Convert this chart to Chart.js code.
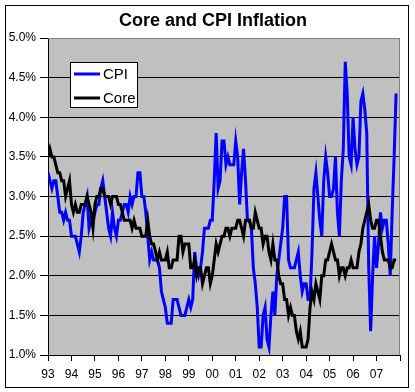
<!DOCTYPE html>
<html>
<head>
<meta charset="utf-8">
<script src="https://cdn.jsdelivr.net/npm/chart.js@4"></script>
<style>
  html, body { margin: 0; padding: 0; background: #fff; }
  #wrap { width: 415px; height: 392px; }
</style>
</head>
<body>
<div id="wrap"><canvas id="chart" width="415" height="392"></canvas></div>
<script>
const chartTitle = 'Core and CPI Inflation';
const yearLabels = ['93', '94', '95', '96', '97', '98', '99', '00', '01', '02', '03', '04', '05', '06', '07'];

// monthly, year over year %, Jan 1993 - Nov 2007
const cpi = [
    3.3, 3.2, 3.1, 3.2, 3.2, 3.0, 2.8, 2.8, 2.7, 2.8, 2.7, 2.7, // 93
    2.5, 2.5, 2.5, 2.4, 2.3, 2.5, 2.8, 2.9, 3.0, 2.6, 2.7, 2.7, // 94
    2.8, 2.9, 2.9, 3.1, 3.2, 3.0, 2.8, 2.6, 2.5, 2.8, 2.6, 2.5, // 95
    2.7, 2.7, 2.8, 2.9, 2.9, 2.8, 3.0, 2.9, 3.0, 3.0, 3.3, 3.3, // 96
    3.0, 3.0, 2.8, 2.5, 2.2, 2.3, 2.2, 2.2, 2.2, 2.1, 1.8, 1.7, // 97
    1.6, 1.4, 1.4, 1.4, 1.7, 1.7, 1.7, 1.6, 1.5, 1.5, 1.5, 1.6, // 98
    1.7, 1.6, 1.7, 2.3, 2.1, 2.0, 2.1, 2.3, 2.6, 2.6, 2.6, 2.7, // 99
    2.7, 3.2, 3.8, 3.1, 3.2, 3.7, 3.7, 3.4, 3.5, 3.4, 3.4, 3.4, // 00
    3.7, 3.5, 2.9, 3.3, 3.6, 3.2, 2.7, 2.7, 2.6, 2.1, 1.9, 1.6, // 01
    1.1, 1.1, 1.5, 1.6, 1.2, 1.1, 1.5, 1.8, 1.5, 2.0, 2.2, 2.4, // 02
    2.6, 3.0, 3.0, 2.2, 2.1, 2.1, 2.1, 2.2, 2.3, 2.0, 1.8, 1.9, // 03
    1.9, 1.7, 1.7, 2.3, 3.1, 3.3, 3.0, 2.7, 2.5, 3.2, 3.5, 3.3, // 04
    3.0, 3.0, 3.1, 3.5, 2.8, 2.5, 3.2, 3.6, 4.7, 4.3, 3.5, 3.4, // 05
    4.0, 3.6, 3.4, 3.5, 4.2, 4.3, 4.1, 3.8, 2.1, 1.3, 2.0, 2.5, // 06
    2.1, 2.4, 2.8, 2.6, 2.7, 2.7, 2.4, 2.0, 2.8, 3.5, 4.3        // 07
];

const core = [
    3.5, 3.6, 3.5, 3.5, 3.4, 3.3, 3.3, 3.2, 3.2, 3.0, 3.1, 3.2, // 93
    2.9, 2.8, 2.9, 2.8, 2.8, 2.9, 2.9, 2.9, 3.0, 2.9, 2.8, 2.6, // 94
    2.9, 3.0, 3.0, 3.1, 3.1, 3.0, 3.0, 3.0, 2.9, 3.0, 3.0, 3.0, // 95
    2.9, 2.9, 2.8, 2.7, 2.7, 2.7, 2.7, 2.6, 2.7, 2.6, 2.6, 2.6, // 96
    2.5, 2.5, 2.5, 2.7, 2.5, 2.4, 2.4, 2.3, 2.2, 2.3, 2.2, 2.2, // 97
    2.2, 2.3, 2.1, 2.1, 2.2, 2.2, 2.2, 2.5, 2.5, 2.3, 2.4, 2.4, // 98
    2.4, 2.1, 2.1, 2.2, 2.0, 2.1, 2.1, 1.9, 2.0, 2.1, 2.1, 1.9, // 99
    2.0, 2.2, 2.4, 2.3, 2.4, 2.5, 2.5, 2.6, 2.6, 2.5, 2.6, 2.6, // 00
    2.6, 2.7, 2.7, 2.6, 2.5, 2.7, 2.7, 2.7, 2.6, 2.6, 2.8, 2.7, // 01
    2.6, 2.6, 2.4, 2.5, 2.5, 2.3, 2.2, 2.4, 2.2, 2.2, 2.0, 1.9, // 02
    1.9, 1.7, 1.7, 1.5, 1.6, 1.5, 1.5, 1.3, 1.2, 1.3, 1.1, 1.1, // 03
    1.1, 1.2, 1.6, 1.8, 1.7, 1.9, 1.8, 1.7, 2.0, 2.0, 2.2, 2.2, // 04
    2.3, 2.4, 2.3, 2.2, 2.2, 2.0, 2.1, 2.1, 2.0, 2.1, 2.1, 2.2, // 05
    2.1, 2.1, 2.1, 2.3, 2.4, 2.6, 2.7, 2.8, 2.9, 2.7, 2.6, 2.6, // 06
    2.7, 2.7, 2.5, 2.3, 2.2, 2.2, 2.2, 2.1, 2.1, 2.2, 2.2        // 07
];

const FONT = 'Arial, "Liberation Sans", sans-serif';

// excel look: gray plot area, chart border, title and legend box inside the plot
const excelFrame = {
    id: 'excelFrame',
    beforeDraw(chart) {
        const { ctx, chartArea: a } = chart;
        ctx.save();
        ctx.fillStyle = '#fff';
        ctx.fillRect(0, 0, chart.width, chart.height);
        ctx.fillStyle = '#c0c0c0';
        ctx.fillRect(a.left, a.top, a.right - a.left, a.bottom - a.top);
        ctx.strokeStyle = '#000';
        ctx.lineWidth = 1;
        ctx.strokeRect(5.5, 5.5, 403, 382);
        ctx.restore();
    },
    beforeDatasetsDraw(chart) {
        const { ctx, chartArea: a } = chart;
        ctx.save();
        ctx.strokeStyle = '#808080';
        ctx.lineWidth = 1;
        ctx.beginPath();
        ctx.moveTo(a.left, a.top + 0.5);
        ctx.lineTo(a.right - 0.5, a.top + 0.5);
        ctx.lineTo(a.right - 0.5, a.bottom);
        ctx.stroke();
        ctx.restore();
    },
    afterDraw(chart) {
        const ctx = chart.ctx;
        ctx.save();
        ctx.fillStyle = '#000';
        ctx.font = 'bold 18px ' + FONT;
        ctx.textAlign = 'center';
        ctx.textBaseline = 'middle';
        ctx.fillText(chartTitle, 213, 21);

        // legend
        ctx.fillStyle = '#fff';
        ctx.fillRect(70, 62, 68, 46);
        ctx.strokeStyle = '#000';
        ctx.lineWidth = 1;
        ctx.strokeRect(70.5, 62.5, 67, 45);
        ctx.font = '15px ' + FONT;
        ctx.textAlign = 'left';
        chart.data.datasets.forEach((ds, i) => {
            const y = 74 + i * 24;
            ctx.strokeStyle = ds.borderColor;
            ctx.lineWidth = 3;
            ctx.beginPath();
            ctx.moveTo(74, y);
            ctx.lineTo(100, y);
            ctx.stroke();
            ctx.fillStyle = '#000';
            ctx.fillText(ds.label, 103, y + 1);
        });
        ctx.restore();
    }
};

new Chart(document.getElementById('chart'), {
    type: 'line',
    data: {
        labels: cpi.map((_, i) => i),
        datasets: [
            {
                label: 'CPI',
                data: cpi,
                borderColor: '#0000ff',
                borderWidth: 3,
                pointRadius: 0,
                tension: 0,
                order: 1
            },
            {
                label: 'Core',
                data: core,
                borderColor: '#000000',
                borderWidth: 3,
                pointRadius: 0,
                tension: 0,
                order: 0
            }
        ]
    },
    options: {
        responsive: false,
        animation: false,
        devicePixelRatio: 1,
        layout: { padding: { top: 38, left: 0, right: 15, bottom: 0 } },
        plugins: {
            legend: { display: false },
            title: { display: false },
            tooltip: { enabled: false }
        },
        scales: {
            x: {
                type: 'linear',
                min: 0,
                max: 180,
                afterFit: s => { s.height = 37; },
                border: { color: '#000', width: 1 },
                grid: { drawOnChartArea: false, tickLength: 6, tickColor: '#000' },
                ticks: {
                    stepSize: 12,
                    autoSkip: false,
                    maxRotation: 0,
                    padding: 6,
                    color: '#000',
                    font: { family: FONT, size: 12 },
                    callback: v => yearLabels[v / 12] ?? ''
                }
            },
            y: {
                min: 1,
                max: 5,
                afterFit: s => { s.width = 48; },
                border: { color: '#000', width: 1 },
                grid: {
                    color: c => (c.tick && c.tick.value === 5 ? '#808080' : '#000'),
                    tickColor: '#000',
                    tickLength: 8,
                    lineWidth: 1
                },
                ticks: {
                    stepSize: 0.5,
                    padding: 4,
                    color: '#000',
                    font: { family: FONT, size: 12 },
                    callback: v => v.toFixed(1) + '%'
                }
            }
        }
    },
    plugins: [excelFrame]
});
</script>
</body>
</html>
